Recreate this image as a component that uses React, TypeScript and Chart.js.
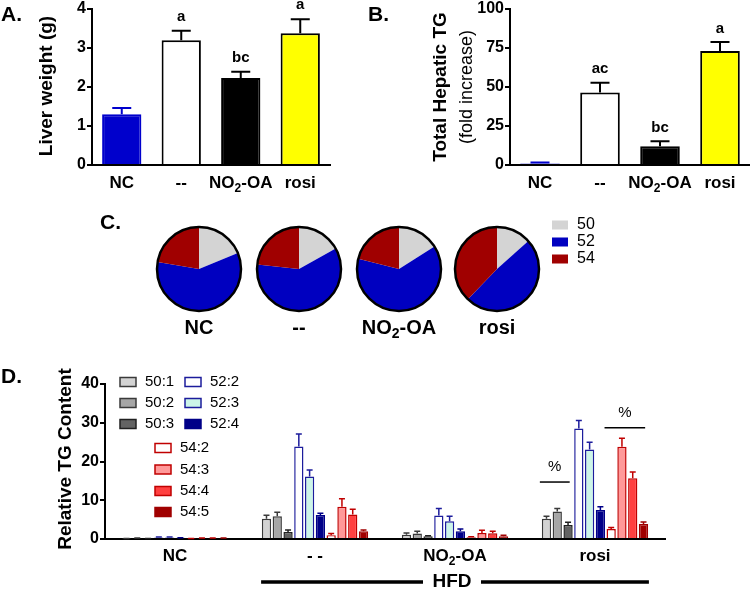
import React, { useEffect, useRef } from 'react';
import { Chart, registerables } from 'chart.js';

Chart.register(...registerables);

const W = 750;
const H = 597;
const FONT = '"Liberation Sans", Arial, Helvetica, sans-serif';

// ---------- Panel A : liver weight ----------
const groupsA = ['NC', '--', 'NO₂-OA', 'rosi'];
const liverWeight = [1.3, 3.2, 2.23, 3.38];
const liverWeightErr = [0.16, 0.24, 0.16, 0.36];
const lettersA = ['', 'a', 'bc', 'a'];

// ---------- Panel B : total hepatic TG ----------
const groupsB = ['NC', '--', 'NO₂-OA', 'rosi'];
const hepaticTG = [1.0, 46.5, 12.0, 73.0];
const hepaticTGErr = [0.6, 6.3, 3.2, 5.9];
const lettersB = ['', 'ac', 'bc', 'a'];

const barFillAB = ['#0000cc', '#ffffff', '#000000', '#ffff00'];
const barEdgeAB = ['#0000cc', '#000000', '#000000', '#000000'];

// ---------- Panel C : pies ----------
const pieGroups = ['NC', '--', 'NO₂-OA', 'rosi'];
const pieSeries = ['50', '52', '54'];
const pie50 = [18.8, 16.9, 16.0, 13.4];
const pie52 = [58.9, 59.8, 62.9, 48.8];
const pie54 = [22.3, 23.3, 21.1, 37.8];
const pieColors = ['#d4d4d4', '#0000c0', '#a00000'];

// ---------- Panel D : relative TG content ----------
const groupsD = ['NC', '- -', 'NO₂-OA', 'rosi'];
const speciesD = ['50:1', '50:2', '50:3', '52:2', '52:3', '52:4', '54:2', '54:3', '54:4', '54:5'];
const tg50_1 = [0.1, 5.2, 1.1, 5.2];
const tg50_2 = [0.2, 5.9, 1.4, 7.1];
const tg50_3 = [0.1, 1.8, 0.7, 3.6];
const tg52_2 = [0.4, 23.9, 6.05, 28.5];
const tg52_3 = [0.4, 16.1, 4.6, 23.1];
const tg52_4 = [0.3, 6.2, 2.0, 7.5];
const tg54_2 = [0.1, 1.0, 0.45, 2.6];
const tg54_3 = [0.2, 8.3, 1.55, 23.8];
const tg54_4 = [0.2, 6.3, 1.5, 15.7];
const tg54_5 = [0.2, 2.0, 0.7, 3.9];
const err50_1 = [0.05, 0.9, 0.45, 0.7];
const err50_2 = [0.05, 1.0, 0.6, 0.8];
const err50_3 = [0.05, 0.5, 0.15, 0.7];
const err52_2 = [0.1, 3.2, 1.85, 2.1];
const err52_3 = [0.1, 1.7, 1.3, 1.9];
const err52_4 = [0.05, 0.45, 0.6, 0.8];
const err54_2 = [0.03, 0.4, 0.1, 0.4];
const err54_3 = [0.05, 2.1, 0.7, 2.2];
const err54_4 = [0.05, 1.4, 0.5, 1.6];
const err54_5 = [0.05, 0.3, 0.25, 0.5];
const fillD = ['#d3d3d3', '#a6a6a6', '#636363', '#ffffff', '#ccf5e8', '#000088', '#ffffff', '#ff9999', '#ff4040', '#a00000'];
const edgeD = ['#3a3a3a', '#3a3a3a', '#202020', '#1c1c9c', '#1c1c9c', '#000088', '#c00000', '#c00000', '#c00000', '#a00000'];
// significance marks: group index, first and last species index, level (value units)
const pctMarks = [
  { group: 3, from: 0, to: 2, level: 14.7 },
  { group: 3, from: 6, to: 9, level: 28.7 },
];

type Area = { left: number; top: number; right: number; bottom: number };

const areaA: Area = { left: 92, top: 8, right: 330, bottom: 165 };
const areaB: Area = { left: 510, top: 8, right: 750, bottom: 165 };
const areaD: Area = { left: 105, top: 384, right: 665, bottom: 539 };
const pieCenters = [199, 299, 399, 497];
const pieCY = 269;
const pieR = 42;

function padFor(a: Area) {
  return { left: 0, top: a.top, right: W - a.right, bottom: H - a.bottom };
}

function txt(ctx: CanvasRenderingContext2D, s: string, x: number, y: number, size: number, weight = 'bold', align: CanvasTextAlign = 'center', color = '#000') {
  ctx.save();
  ctx.font = `${weight} ${size}px ${FONT}`;
  ctx.fillStyle = color;
  ctx.textAlign = align;
  ctx.textBaseline = 'middle';
  ctx.fillText(s, x, y);
  ctx.restore();
}

function vtxt(ctx: CanvasRenderingContext2D, s: string, x: number, y: number, size: number, weight = 'bold') {
  ctx.save();
  ctx.translate(x, y);
  ctx.rotate(-Math.PI / 2);
  ctx.font = `${weight} ${size}px ${FONT}`;
  ctx.fillStyle = '#000';
  ctx.textAlign = 'center';
  ctx.textBaseline = 'middle';
  ctx.fillText(s, 0, 0);
  ctx.restore();
}

function richTxt(ctx: CanvasRenderingContext2D, s: string, x: number, y: number, size: number, weight = 'bold') {
  const parts = s.split('₂');
  const segs: { t: string; sub: boolean; w: number }[] = [];
  parts.forEach((p, i) => {
    if (p) segs.push({ t: p, sub: false, w: 0 });
    if (i < parts.length - 1) segs.push({ t: '2', sub: true, w: 0 });
  });
  const mainFont = `${weight} ${size}px ${FONT}`;
  const subFont = `${weight} ${Math.round(size * 0.72)}px ${FONT}`;
  ctx.save();
  let total = 0;
  segs.forEach((sg) => {
    ctx.font = sg.sub ? subFont : mainFont;
    sg.w = ctx.measureText(sg.t).width;
    total += sg.w;
  });
  let cx = x - total / 2;
  ctx.fillStyle = '#000';
  ctx.textAlign = 'left';
  ctx.textBaseline = 'middle';
  segs.forEach((sg) => {
    ctx.font = sg.sub ? subFont : mainFont;
    ctx.fillText(sg.t, cx, sg.sub ? y + size * 0.32 : y);
    cx += sg.w;
  });
  ctx.restore();
}

function drawErrors(chart: any, capW: number, lw: number) {
  const ctx = chart.ctx as CanvasRenderingContext2D;
  const ys = chart.scales.y;
  chart.data.datasets.forEach((ds: any, di: number) => {
    if (!ds.errors) return;
    const meta = chart.getDatasetMeta(di);
    meta.data.forEach((el: any, i: number) => {
      const top = ys.getPixelForValue(ds.data[i] + ds.errors[i]);
      const col = Array.isArray(ds.borderColor) ? ds.borderColor[i] : ds.borderColor;
      ctx.save();
      ctx.strokeStyle = col;
      ctx.lineWidth = lw;
      ctx.beginPath();
      ctx.moveTo(el.x, el.y);
      ctx.lineTo(el.x, top);
      ctx.moveTo(el.x - capW / 2, top);
      ctx.lineTo(el.x + capW / 2, top);
      ctx.stroke();
      ctx.restore();
    });
  });
}

const common: any = {
  responsive: false,
  animation: false,
  devicePixelRatio: 1,
  events: [],
  plugins: { legend: { display: false }, tooltip: { enabled: false } },
};

function xOpts(): any {
  return {
    type: 'category',
    offset: true,
    grid: { display: false, drawTicks: false },
    border: { display: true, color: '#000', width: 2 },
    ticks: { display: false },
    afterFit: (s: any) => { s.height = 0; },
  };
}

function yOpts(max: number, step: number, width: number): any {
  return {
    min: 0,
    max,
    ticks: { stepSize: step, color: '#000', padding: 1, font: { family: FONT, size: 16, weight: 'bold', lineHeight: 1 } },
    grid: { display: true, drawOnChartArea: false, drawTicks: true, tickLength: 5, color: '#000', lineWidth: 2 },
    border: { display: true, color: '#000', width: 2 },
    afterFit: (s: any) => { s.width = width; },
  };
}

function barAB(labels: string[], values: number[], errs: number[], letters: string[], max: number, step: number, area: Area, letterGap: number, deco: (c: any) => void): any {
  return {
    type: 'bar',
    data: {
      labels,
      datasets: [{
        data: values,
        errors: errs,
        backgroundColor: barFillAB,
        borderColor: barEdgeAB,
        borderWidth: 2,
        barPercentage: 0.66,
        categoryPercentage: 1,
      }],
    },
    options: { ...common, layout: { padding: padFor(area) }, scales: { x: xOpts(), y: yOpts(max, step, area.left) } },
    plugins: [{
      id: 'decoAB',
      afterDraw(chart: any) {
        drawErrors(chart, 19, 2);
        const ctx = chart.ctx;
        const xs = chart.scales.x;
        const ys = chart.scales.y;
        labels.forEach((l, i) => richTxt(ctx, l, xs.getPixelForValue(i), 183, 17));
        letters.forEach((l, i) => {
          if (!l) return;
          txt(ctx, l, xs.getPixelForValue(i), ys.getPixelForValue(values[i] + errs[i]) - letterGap, 15);
        });
        deco(chart);
      },
    }],
  };
}

function configA() {
  return barAB(groupsA, liverWeight, liverWeightErr, lettersA, 4, 1, areaA, 14, (chart) => {
    const ctx = chart.ctx;
    txt(ctx, 'A.', 1, 15, 21, 'bold', 'left');
    vtxt(ctx, 'Liver weight (g)', 47, 86, 19);
  });
}

function configB() {
  return barAB(groupsB, hepaticTG, hepaticTGErr, lettersB, 100, 25, areaB, 13.5, (chart) => {
    const ctx = chart.ctx;
    txt(ctx, 'B.', 368, 15, 21, 'bold', 'left');
    vtxt(ctx, 'Total Hepatic TG', 441, 87, 19);
    vtxt(ctx, '(fold increase)', 467, 87, 18, 'normal');
  });
}

function configPie(i: number) {
  const cx = pieCenters[i];
  const area: Area = { left: cx - pieR, right: cx + pieR, top: pieCY - pieR, bottom: pieCY + pieR };
  return {
    type: 'pie',
    data: {
      labels: pieSeries,
      datasets: [{ data: [pie50[i], pie52[i], pie54[i]], backgroundColor: pieColors, borderWidth: 0 }],
    },
    options: {
      ...common,
      layout: { padding: { left: area.left, top: area.top, right: W - area.right, bottom: H - area.bottom } },
    },
    plugins: [{
      id: 'decoPie',
      afterDraw(chart: any) {
        const ctx = chart.ctx as CanvasRenderingContext2D;
        const el = chart.getDatasetMeta(0).data[0];
        ctx.save();
        ctx.strokeStyle = '#000';
        ctx.lineWidth = 2.5;
        ctx.beginPath();
        ctx.arc(el.x, el.y, el.outerRadius, 0, Math.PI * 2);
        ctx.stroke();
        ctx.restore();
        richTxt(ctx, pieGroups[i], el.x, el.y + el.outerRadius + 17, 20);
        if (i === 0) {
          txt(ctx, 'C.', 100, 223, 21, 'bold', 'left');
          pieSeries.forEach((s, k) => {
            const y = 225 + k * 17;
            ctx.fillStyle = pieColors[k];
            ctx.fillRect(552, y - 4.5, 16, 9);
            txt(ctx, s, 577, y, 16, 'normal', 'left');
          });
        }
      },
    }],
  };
}

function configD() {
  const seriesD = [tg50_1, tg50_2, tg50_3, tg52_2, tg52_3, tg52_4, tg54_2, tg54_3, tg54_4, tg54_5];
  const errD = [err50_1, err50_2, err50_3, err52_2, err52_3, err52_4, err54_2, err54_3, err54_4, err54_5];
  const catPct = 0.77;
  const legendPos = [
    [120, 382], [120, 403], [120, 424],
    [185, 382], [185, 403], [185, 424],
    [155, 448], [155, 469.5], [155, 491], [155, 512],
  ];
  return {
    type: 'bar',
    data: {
      labels: groupsD,
      datasets: speciesD.map((name, k) => ({
        label: name,
        data: seriesD[k],
        errors: errD[k],
        backgroundColor: fillD[k],
        borderColor: edgeD[k],
        borderWidth: 1.5,
        barPercentage: 0.86,
        categoryPercentage: catPct,
      })),
    },
    options: { ...common, layout: { padding: padFor(areaD) }, scales: { x: xOpts(), y: yOpts(40, 10, areaD.left) } },
    plugins: [{
      id: 'decoD',
      afterDraw(chart: any) {
        drawErrors(chart, 6, 1.5);
        const ctx = chart.ctx as CanvasRenderingContext2D;
        const xs = chart.scales.x;
        const ys = chart.scales.y;
        txt(ctx, 'D.', 1, 377, 21, 'bold', 'left');
        vtxt(ctx, 'Relative TG Content', 66, 459, 19);
        groupsD.forEach((g, i) => richTxt(ctx, g, xs.getPixelForValue(i), 556, 17));
        // HFD bracket
        const slot = (xs.right - xs.left) / groupsD.length;
        const half = (slot * catPct) / 2;
        const hx1 = xs.getPixelForValue(1) - half;
        const hx2 = xs.getPixelForValue(3) + half;
        const hy = 582;
        const mid = (hx1 + hx2) / 2 - 3;
        ctx.save();
        ctx.strokeStyle = '#000';
        ctx.lineWidth = 3.5;
        ctx.beginPath();
        ctx.moveTo(hx1, hy); ctx.lineTo(mid - 29, hy);
        ctx.moveTo(mid + 29, hy); ctx.lineTo(hx2, hy);
        ctx.stroke();
        ctx.restore();
        txt(ctx, 'HFD', mid, hy, 19);
        // % marks
        pctMarks.forEach((m) => {
          const a: any = chart.getDatasetMeta(m.from).data[m.group];
          const b: any = chart.getDatasetMeta(m.to).data[m.group];
          const x1 = a.x - a.width / 2 - 2;
          const x2 = b.x + b.width / 2 - 3;
          const y = ys.getPixelForValue(m.level);
          ctx.save();
          ctx.strokeStyle = '#000';
          ctx.lineWidth = 1.5;
          ctx.beginPath();
          ctx.moveTo(x1, y); ctx.lineTo(x2, y);
          ctx.stroke();
          ctx.restore();
          txt(ctx, '%', (x1 + x2) / 2, y - 15, 15, 'normal');
        });
        // legend
        speciesD.forEach((name, k) => {
          const [lx, ly] = legendPos[k];
          ctx.save();
          ctx.fillStyle = fillD[k];
          ctx.fillRect(lx, ly - 4.5, 16, 9);
          ctx.strokeStyle = edgeD[k];
          ctx.lineWidth = 1.5;
          ctx.strokeRect(lx, ly - 4.5, 16, 9);
          ctx.restore();
          txt(ctx, name, lx + 25, ly, 15, 'normal', 'left');
        });
      },
    }],
  };
}

export default function App() {
  const refs = useRef<(HTMLCanvasElement | null)[]>([]);
  useEffect(() => {
    const cfgs: any[] = [configA(), configB(), configPie(0), configPie(1), configPie(2), configPie(3), configD()];
    const charts = cfgs.map((c, i) => new Chart(refs.current[i] as HTMLCanvasElement, c));
    return () => charts.forEach((c) => c.destroy());
  }, []);
  return (
    <div style={{ position: 'absolute', left: 0, top: 0, width: W, height: H, background: '#fff', overflow: 'hidden' }}>
      {Array.from({ length: 7 }).map((_, i) => (
        <canvas
          key={i}
          ref={(el) => { refs.current[i] = el; }}
          width={W}
          height={H}
          style={{ position: 'absolute', left: 0, top: 0, width: W, height: H }}
        />
      ))}
    </div>
  );
}
